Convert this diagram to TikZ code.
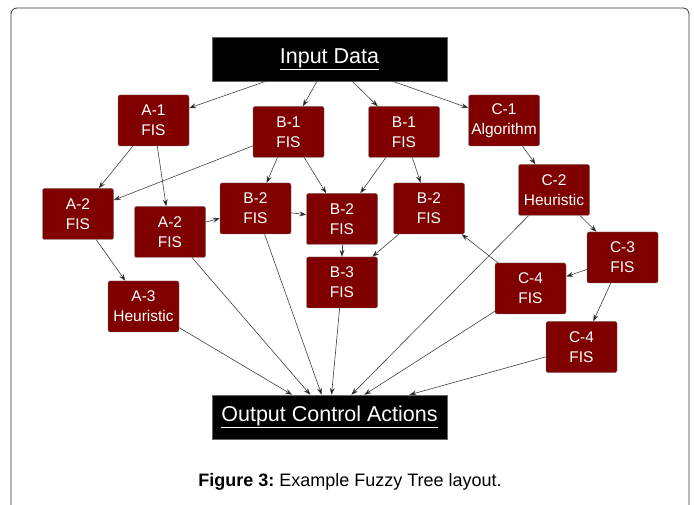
\documentclass[tikz,border=0pt]{standalone}
\usepackage{fontspec}
\setmainfont{Liberation Sans}
\usetikzlibrary{arrows.meta}
\definecolor{fuzzred}{RGB}{128,0,0}
\begin{document}
\begin{tikzpicture}[x=1pt, y=-1pt,
  fis/.style={shape=rectangle, draw=black!55, fill=fuzzred, rounded corners=2pt, minimum width=71pt, minimum height=51pt, text=white, font=\fontsize{15.5}{20}\selectfont, align=center, inner sep=1pt},
  io/.style={shape=rectangle, draw=black!60, fill=black, minimum width=235pt, minimum height=44pt, text=white, font=\fontsize{21.5}{25}\selectfont},
  link/.style={-{Stealth[length=7pt,width=5pt]}, draw=black!75, line width=0.6pt}]
\clip (0,0) rectangle (694,505);
\draw[black!80, line width=0.8pt, rounded corners=6pt] (11,8) rectangle (689,520);
\node[io] (input) at (329.5,59) {\underline{Input Data}};
\node[io] (output) at (329.5,417) {\underline{Output Control Actions}};
\node[fis] (a1) at (153.5,120.5) {A-1\\FIS};
\node[fis] (b1l) at (288.5,132) {B-1\\FIS};
\node[fis] (b1r) at (404,132) {B-1\\FIS};
\node[fis] (c1) at (504,120.5) {C-1\\Algorithm};
\node[fis] (a2l) at (78,214) {A-2\\FIS};
\node[fis] (a2r) at (170,232) {A-2\\FIS};
\node[fis] (b2l) at (255.5,208.5) {B-2\\FIS};
\node[fis] (b2m) at (342,219) {B-2\\FIS};
\node[fis] (b2r) at (429,208.5) {B-2\\FIS};
\node[fis] (c2) at (554,190) {C-2\\Heuristic};
\node[fis] (c3) at (622.5,257.5) {C-3\\FIS};
\node[fis] (b3) at (342,282.5) {B-3\\FIS};
\node[fis] (c4l) at (530.5,288.5) {C-4\\FIS};
\node[fis] (a3) at (143.5,306.5) {A-3\\Heuristic};
\node[fis] (c4r) at (581.5,347) {C-4\\FIS};
\node[font=\fontsize{18}{21}\selectfont] (cap) at (350,482) {\textbf{Figure 3:}~Example Fuzzy Tree layout.};
\path [link] (input) edge (a1);
\path [link] (input) edge (b1l);
\path [link] (input) edge (b1r);
\path [link] (input) edge (c1);
\path [link] (a1) edge (a2l);
\path [link] (a1) edge (a2r);
\path [link] (b1l) edge (a2l);
\path [link] (b1l) edge (b2l);
\path [link] (b1l) edge (b2m);
\path [link] (b1r) edge (b2m);
\path [link] (b1r) edge (b2r);
\path [link] (c1) edge (c2);
\path [link] (a2l) edge (a3);
\path [link] (a2r) edge (b2l);
\path [link] (b2l) edge (b2m);
\path [link] (b2m) edge (b3);
\path [link] (b2r) edge (b3);
\path [link] (c2) edge (c3);
\path [link] (c3) edge (c4l);
\path [link] (c3) edge (c4r);
\path [link] (c4l) edge (b2r);
\path [link] (a3) edge (output);
\path [link] (a2r) edge (output);
\path [link] (b2l) edge (output);
\path [link] (b3) edge (output);
\path [link] (c2) edge (output);
\path [link] (c4l) edge (output);
\path [link] (c4r) edge (output);
\end{tikzpicture}
\end{document}
